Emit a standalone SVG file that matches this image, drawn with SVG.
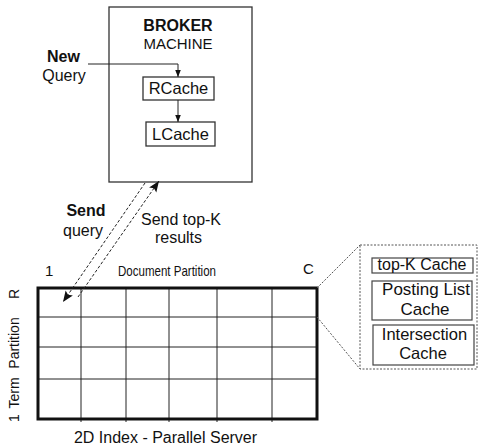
<svg xmlns="http://www.w3.org/2000/svg" width="480" height="447" viewBox="0 0 480 447">
<style>
text{font-family:"Liberation Sans",Arial,sans-serif;fill:#111;}
.box{fill:#fff;stroke:#333;stroke-width:1.3;}
.cbox{fill:#fff;stroke:#444;stroke-width:1.2;}
.ln{fill:none;stroke:#222;stroke-width:1;}
.dash{fill:none;stroke:#222;stroke-width:1;stroke-dasharray:3 2;}
.dotb{fill:none;stroke:#555;stroke-width:1;stroke-dasharray:2 1.5;}
.grid{fill:none;stroke:#222;stroke-width:1;}
</style>
<defs>
<marker id="ah" viewBox="0 0 10 10" refX="10" refY="5" markerWidth="7" markerHeight="7" orient="auto" markerUnits="userSpaceOnUse">
<path d="M0,1 L10,5 L0,9 Z" fill="#111"/>
</marker>
<marker id="ahb" viewBox="0 0 10 10" refX="10" refY="5" markerWidth="11" markerHeight="11" orient="auto" markerUnits="userSpaceOnUse">
<path d="M0,1 L10,5 L0,9 L2,5 Z" fill="#111"/>
</marker>
</defs>

<g id="broker">
<rect class="box" x="109" y="7" width="143" height="175"/>
<text x="178" y="31" font-size="16" font-weight="bold" text-anchor="middle">BROKER</text>
<text x="178" y="48.5" font-size="15" text-anchor="middle">MACHINE</text>
</g>
<g id="rcache">
<rect class="box" x="143" y="77" width="71" height="23"/>
<text x="178.5" y="94" font-size="16.5" text-anchor="middle">RCache</text>
</g>
<g id="lcache">
<rect class="box" x="146" y="122" width="69" height="24"/>
<text x="180.5" y="140" font-size="16.5" text-anchor="middle">LCache</text>
</g>
<g id="newquery">
<text x="63.5" y="62" font-size="16" font-weight="bold" text-anchor="middle">New</text>
<text x="64" y="81" font-size="16" text-anchor="middle">Query</text>
</g>
<g id="sendquery">
<text x="86" y="216" font-size="16" font-weight="bold" text-anchor="middle">Send</text>
<text x="83" y="236" font-size="16" text-anchor="middle">query</text>
</g>
<g id="sendtopk">
<text x="181" y="225" font-size="16" text-anchor="middle">Send top-K</text>
<text x="178.5" y="243" font-size="16" text-anchor="middle">results</text>
</g>

<g id="index">
<text x="45" y="276" font-size="15">1</text>
<text x="118" y="276" font-size="15" textLength="98" lengthAdjust="spacingAndGlyphs">Document Partition</text>
<text x="303" y="274" font-size="15">C</text>
<g class="grid">
<line x1="38" y1="317" x2="317" y2="317"/>
<line x1="38" y1="347" x2="317" y2="347"/>
<line x1="38" y1="379" x2="317" y2="379"/>
<line x1="81" y1="288" x2="81" y2="422"/>
<line x1="126" y1="288" x2="126" y2="422"/>
<line x1="169" y1="288" x2="169" y2="422"/>
<line x1="217" y1="288" x2="217" y2="422"/>
<line x1="272" y1="288" x2="272" y2="422"/>
</g>
<rect x="38" y="288" width="279" height="131" fill="none" stroke="#111" stroke-width="3"/>
<text transform="translate(19,294) rotate(-90)" font-size="14" text-anchor="middle">R</text>
<text transform="translate(19,343) rotate(-90)" font-size="14" text-anchor="middle">Partition</text>
<text transform="translate(19,393) rotate(-90)" font-size="14" text-anchor="middle">Term</text>
<text transform="translate(19,418) rotate(-90)" font-size="14" text-anchor="middle">1</text>
<text x="165.5" y="443" font-size="16" text-anchor="middle">2D Index - Parallel Server</text>
</g>

<g id="caches">
<rect class="dotb" x="360" y="245" width="117" height="124"/>
<g id="topk-cache">
<rect class="cbox" x="372" y="258" width="101" height="15"/>
<text x="422" y="269.5" font-size="16" text-anchor="middle">top-K Cache</text>
</g>
<g id="posting-cache">
<rect class="cbox" x="372" y="281" width="100" height="39"/>
<text x="426" y="295" font-size="17" text-anchor="middle">Posting List</text>
<text x="425" y="315" font-size="17" text-anchor="middle">Cache</text>
</g>
<g id="intersection-cache">
<rect class="cbox" x="373" y="325" width="101" height="40"/>
<text x="424.5" y="340" font-size="16.5" text-anchor="middle">Intersection</text>
<text x="423" y="359" font-size="16.5" text-anchor="middle">Cache</text>
</g>
</g>

<g id="connectors">
<polyline class="ln" points="88,64 178,64 178,77" marker-end="url(#ah)"/>
<line class="ln" x1="178" y1="100" x2="178" y2="122" marker-end="url(#ah)"/>
<line class="dash" x1="145" y1="183" x2="63" y2="302" marker-end="url(#ahb)"/>
<line class="dash" x1="78" y1="297" x2="159" y2="181" marker-end="url(#ahb)"/>
<line class="dotb" x1="317" y1="288" x2="360" y2="245"/>
<line class="dotb" x1="317" y1="317" x2="360" y2="369"/>
</g>
</svg>
